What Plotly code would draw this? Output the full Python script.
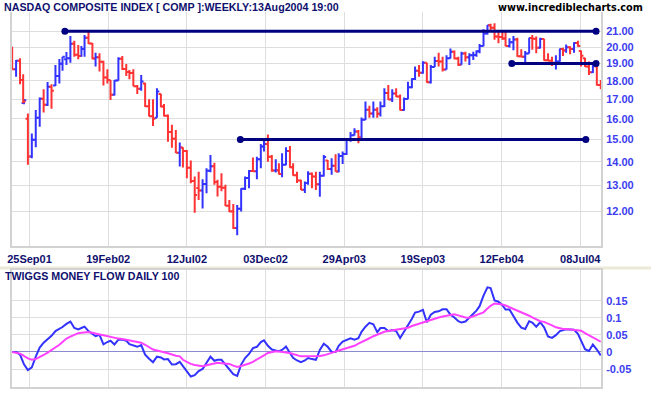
import numpy as np
import pandas as pd
import plotly.graph_objects as go

# ---------------- data ----------------
week_end = pd.date_range("2001-08-17", "2004-08-13", freq="W-FRI").strftime("%Y-%m-%d").tolist()

market_holidays = [
    "2001-09-03", "2001-09-11", "2001-09-12", "2001-09-13", "2001-09-14", "2001-11-22", "2001-12-25",
    "2002-01-01", "2002-01-21", "2002-02-18", "2002-03-29", "2002-05-27", "2002-07-04", "2002-09-02",
    "2002-11-28", "2002-12-25",
    "2003-01-01", "2003-01-20", "2003-02-17", "2003-04-18", "2003-05-26", "2003-07-04", "2003-09-01",
    "2003-11-27", "2003-12-25",
    "2004-01-01", "2004-01-19", "2004-02-16", "2004-04-09", "2004-05-31", "2004-06-11", "2004-07-05",
]

price_open = [
    20.00, 18.67, 19.16, 18.05, 16.80, 16.00, 14.23, 14.99, 16.05, 17.03,
    16.71, 17.68, 17.75, 18.28, 18.98, 19.25, 19.31, 20.21, 19.53, 19.45,
    19.87, 20.59, 20.22, 19.30, 19.37, 19.11, 18.19, 18.05, 17.24, 18.02,
    19.29, 18.68, 18.51, 18.45, 17.70, 17.56, 17.86, 16.63, 16.13, 16.05,
    17.28, 16.62, 16.15, 15.35, 15.04, 14.40, 14.63, 14.48, 13.74, 13.19,
    12.90, 12.80, 13.06, 13.61, 13.80, 13.15, 12.95, 12.91, 12.21, 12.00,
    11.39, 12.10, 12.87, 13.31, 13.60, 13.59, 14.11, 14.68, 14.79, 14.22,
    13.62, 13.63, 13.48, 13.87, 14.48, 13.76, 13.42, 13.21, 12.83, 13.10,
    13.49, 13.37, 13.05, 13.40, 14.05, 13.69, 13.83, 13.58, 14.25, 14.34,
    15.02, 15.20, 15.38, 15.10, 15.95, 16.46, 16.27, 16.45, 16.25, 16.63,
    17.33, 16.99, 17.31, 17.15, 16.44, 17.02, 17.65, 18.10, 18.58, 18.46,
    19.05, 17.93, 18.80, 19.15, 19.12, 18.65, 19.32, 19.71, 19.30, 18.93,
    19.60, 19.37, 19.49, 19.51, 19.74, 20.06, 20.86, 21.40, 21.24, 20.66,
    20.64, 20.53, 20.07, 20.30, 20.47, 19.43, 19.40, 19.60, 20.57, 20.52,
    19.95, 20.50, 19.20, 19.17, 19.04, 19.12, 19.87, 19.78, 19.99, 19.87,
    20.25, 19.75, 19.31, 18.83, 18.49, 18.82, 17.77,
]
price_high = [
    20.02, 19.21, 19.31, 18.38, 17.00, 16.27, 15.29, 16.44, 17.10, 17.54,
    17.94, 17.81, 18.91, 19.27, 19.41, 19.69, 20.70, 20.40, 20.13, 20.06,
    20.76, 21.00, 20.25, 19.65, 19.61, 19.17, 18.66, 18.05, 18.05, 19.37,
    19.45, 18.97, 18.62, 18.66, 17.77, 18.33, 17.90, 17.00, 17.00, 17.59,
    17.30, 16.75, 16.21, 15.70, 15.45, 14.86, 14.65, 14.52, 14.05, 13.37,
    13.57, 13.26, 13.72, 14.30, 13.96, 13.24, 13.51, 13.03, 12.43, 12.28,
    12.24, 12.89, 13.37, 13.65, 14.19, 14.22, 14.79, 15.06, 15.24, 14.30,
    14.11, 13.93, 14.37, 14.64, 14.70, 13.93, 13.57, 13.24, 13.17, 13.59,
    13.54, 13.57, 13.57, 14.30, 14.08, 14.15, 14.33, 14.37, 14.45, 15.06,
    15.35, 15.53, 15.45, 16.07, 16.88, 16.66, 16.88, 16.58, 16.88, 17.59,
    17.77, 17.54, 17.59, 17.26, 17.10, 17.95, 18.15, 18.82, 18.91, 19.14,
    19.05, 18.91, 19.41, 19.65, 19.41, 19.49, 19.90, 19.79, 19.41, 19.70,
    19.70, 19.61, 19.70, 19.79, 20.19, 21.13, 21.42, 21.50, 21.54, 20.98,
    20.98, 20.98, 20.55, 20.70, 20.58, 19.86, 19.75, 20.58, 20.76, 20.67,
    20.58, 20.52, 19.61, 19.41, 19.50, 19.90, 19.95, 20.15, 20.05, 20.30,
    20.40, 19.78, 19.35, 19.12, 19.05, 18.90, 18.05,
]
price_low = [
    18.66, 18.24, 17.81, 16.79, 16.74, 13.87, 14.15, 14.64, 15.61, 16.31,
    16.65, 16.51, 17.72, 17.86, 18.58, 18.91, 19.05, 19.41, 19.25, 19.41,
    19.41, 20.19, 19.25, 18.82, 18.53, 17.74, 17.86, 16.96, 17.20, 18.01,
    18.62, 18.28, 18.09, 17.70, 17.28, 17.46, 16.60, 16.11, 15.65, 16.05,
    16.58, 16.11, 14.90, 14.62, 14.38, 13.79, 13.75, 13.30, 13.09, 11.95,
    12.43, 12.11, 12.69, 13.55, 13.03, 12.57, 12.77, 12.20, 11.97, 11.36,
    11.14, 11.99, 12.82, 12.89, 13.57, 13.26, 13.72, 14.45, 14.00, 13.57,
    13.54, 13.46, 13.34, 13.85, 13.74, 13.40, 13.10, 12.82, 12.70, 13.03,
    12.89, 12.82, 12.56, 13.37, 13.65, 13.44, 13.57, 13.55, 13.90, 14.30,
    14.90, 15.19, 14.83, 15.06, 15.94, 16.05, 16.05, 16.05, 16.11, 16.60,
    16.96, 16.86, 17.12, 16.42, 16.40, 17.00, 17.60, 18.05, 18.24, 18.40,
    17.90, 17.86, 18.80, 18.82, 18.53, 18.65, 19.30, 19.25, 18.85, 18.93,
    19.12, 18.91, 19.21, 19.41, 19.61, 20.05, 20.80, 21.09, 20.45, 20.23,
    20.45, 20.05, 19.97, 19.80, 19.40, 19.38, 19.05, 19.60, 19.83, 19.61,
    19.90, 19.17, 19.15, 18.85, 18.65, 19.10, 19.45, 19.65, 19.55, 19.65,
    20.02, 18.82, 18.80, 18.33, 18.45, 17.75, 17.55,
]
price_close = [
    18.67, 19.16, 18.05, 16.88, 16.95, 14.23, 14.99, 16.05, 17.03, 16.71,
    17.68, 17.46, 18.28, 18.98, 19.40, 19.31, 20.21, 19.53, 19.45, 19.87,
    20.59, 20.22, 19.30, 19.37, 19.11, 18.19, 18.05, 17.24, 18.02, 19.29,
    18.68, 18.51, 18.45, 17.70, 17.56, 17.96, 16.63, 16.13, 16.00, 17.41,
    16.62, 16.15, 15.35, 15.04, 14.40, 14.63, 14.48, 13.74, 13.19, 12.62,
    12.80, 13.06, 13.61, 13.80, 13.15, 12.95, 12.91, 12.21, 11.99, 11.39,
    12.10, 12.87, 13.31, 13.60, 13.59, 14.11, 14.68, 14.79, 14.22, 13.62,
    13.63, 13.48, 13.87, 14.48, 13.76, 13.42, 13.21, 12.83, 13.10, 13.49,
    13.37, 13.05, 13.40, 14.21, 13.69, 13.83, 13.58, 14.25, 14.34, 15.02,
    15.20, 15.38, 15.10, 15.95, 16.46, 16.27, 16.45, 16.25, 16.63, 17.33,
    16.99, 17.31, 17.15, 16.44, 17.02, 17.65, 18.10, 18.58, 18.46, 19.05,
    17.93, 18.80, 19.15, 19.12, 18.65, 19.32, 19.71, 19.30, 18.93, 19.60,
    19.37, 19.49, 19.51, 19.74, 20.06, 20.86, 21.40, 21.24, 20.66, 20.64,
    20.53, 20.07, 20.30, 20.47, 19.43, 19.40, 19.60, 20.57, 20.52, 19.95,
    20.50, 19.20, 19.17, 19.04, 19.12, 19.87, 19.78, 19.99, 19.87, 20.25,
    20.06, 19.46, 18.83, 18.49, 18.87, 17.77, 17.57,
]

tmf = [
    0.000, 0.000, -0.008, -0.030, -0.036, -0.053, -0.045, -0.014, 0.013, 0.027,
    0.036, 0.047, 0.061, 0.067, 0.073, 0.082, 0.089, 0.070, 0.066, 0.070,
    0.074, 0.061, 0.052, 0.046, 0.050, 0.022, 0.029, 0.033, 0.022, 0.036,
    0.036, 0.033, 0.023, 0.018, 0.015, 0.020, -0.008, -0.020, -0.030, -0.014,
    -0.016, -0.022, -0.021, -0.037, -0.036, -0.029, -0.041, -0.058, -0.072, -0.068,
    -0.056, -0.050, -0.030, -0.014, -0.026, -0.023, -0.023, -0.038, -0.050, -0.065,
    -0.070, -0.037, -0.018, -0.006, 0.011, 0.015, 0.029, 0.034, 0.018, 0.007,
    0.004, 0.002, 0.006, 0.016, -0.003, -0.017, -0.025, -0.030, -0.025, -0.018,
    -0.021, -0.023, 0.006, 0.024, 0.015, 0.000, 0.000, 0.018, 0.030, 0.036,
    0.040, 0.036, 0.040, 0.059, 0.074, 0.085, 0.081, 0.058, 0.070, 0.070,
    0.061, 0.064, 0.061, 0.041, 0.058, 0.078, 0.097, 0.115, 0.118, 0.123,
    0.087, 0.109, 0.117, 0.119, 0.125, 0.125, 0.109, 0.101, 0.090, 0.086,
    0.089, 0.100, 0.113, 0.121, 0.134, 0.165, 0.189, 0.187, 0.151, 0.147,
    0.137, 0.124, 0.124, 0.104, 0.086, 0.071, 0.067, 0.090, 0.086, 0.074,
    0.087, 0.072, 0.045, 0.041, 0.049, 0.061, 0.063, 0.066, 0.066, 0.065,
    0.053, 0.031, 0.008, 0.003, 0.022, 0.007, -0.010,
]
tmf_signal = [
    0.000, -0.002, -0.005, -0.010, -0.012, -0.019, -0.023, -0.021, -0.016, -0.009,
    -0.002, 0.005, 0.013, 0.021, 0.029, 0.039, 0.045, 0.050, 0.055, 0.056,
    0.057, 0.058, 0.056, 0.053, 0.051, 0.049, 0.046, 0.043, 0.041, 0.039,
    0.038, 0.036, 0.035, 0.032, 0.030, 0.027, 0.021, 0.014, 0.007, 0.004,
    0.002, -0.001, -0.004, -0.008, -0.011, -0.013, -0.023, -0.029, -0.035, -0.038,
    -0.040, -0.042, -0.039, -0.036, -0.033, -0.032, -0.033, -0.034, -0.035, -0.040,
    -0.044, -0.041, -0.038, -0.034, -0.029, -0.023, -0.016, -0.010, -0.003, 0.000,
    0.002, 0.001, 0.000, -0.002, -0.003, -0.006, -0.010, -0.013, -0.013, -0.013,
    -0.013, -0.013, -0.012, -0.010, -0.007, -0.003, 0.001, 0.004, 0.007, 0.010,
    0.014, 0.018, 0.024, 0.028, 0.034, 0.040, 0.046, 0.051, 0.055, 0.059,
    0.061, 0.063, 0.064, 0.065, 0.067, 0.071, 0.076, 0.079, 0.084, 0.087,
    0.091, 0.095, 0.098, 0.101, 0.104, 0.106, 0.108, 0.110, 0.107, 0.104,
    0.101, 0.100, 0.104, 0.108, 0.111, 0.116, 0.127, 0.135, 0.142, 0.141,
    0.139, 0.136, 0.131, 0.126, 0.122, 0.118, 0.112, 0.106, 0.101, 0.096,
    0.090, 0.088, 0.084, 0.078, 0.072, 0.068, 0.067, 0.067, 0.066, 0.066,
    0.064, 0.062, 0.055, 0.049, 0.041, 0.036, 0.030,
]

date_tick_days = ["2001-09-25", "2002-02-19", "2002-07-12", "2002-12-03",
                  "2003-04-29", "2003-09-19", "2004-02-12", "2004-07-08"]
date_tick_labels = ["25Sep01", "19Feb02", "12Jul02", "03Dec02",
                    "29Apr03", "19Sep03", "12Feb04", "08Jul04"]
price_ticks = [12, 13, 14, 15, 16, 17, 18, 19, 20, 21]
price_tick_labels = ["12.00", "13.00", "14.00", "15.00", "16.00",
                     "17.00", "18.00", "19.00", "20.00", "21.00"]
tmf_ticks = [-0.05, 0, 0.05, 0.1, 0.15]
tmf_tick_labels = ["-0.05", "0", "0.05", "0.1", "0.15"]

trend_start = ["2001-11-28", "2002-10-17", "2004-03-03"]
trend_end = ["2004-08-05", "2004-07-19", "2004-08-05"]
trend_level = [21.0, 15.0, 19.0]

# ---------------- trading-day axis ----------------
HOL = np.array(market_holidays, dtype="datetime64[D]")
START = np.datetime64(week_end[0])


def trading_day(dates):
    d = np.array(dates, dtype="datetime64[D]")
    last = np.busday_offset(d, 0, roll="backward", holidays=HOL)
    return np.busday_count(START, last, holidays=HOL).astype(float)


bar_x = trading_day(week_end)
tick_x = trading_day(date_tick_days)
ts_x = trading_day(trend_start)
te_x = trading_day(trend_end)

BLUE = "#3333ff"
RED = "#ff3333"
NAVY = "#000080"
GRID = "#dedede"
FRAME = "#d2d2d2"
LABEL_BLUE = "#3c3cf0"
LABEL_NAVY = "#10106e"
TICK = 3.0  # tick length in trading days

up_x, up_y, dn_x, dn_y = [], [], [], []
for x, o, h, l, c in zip(bar_x, price_open, price_high, price_low, price_close):
    xs = [x, x, None, x - TICK, x, None, x, x + TICK, None]
    ys = [l, h, None, o, o, None, c, c, None]
    if c >= o:
        up_x += xs
        up_y += ys
    else:
        dn_x += xs
        dn_y += ys

fig = go.Figure()
fig.add_trace(go.Scatter(x=up_x, y=up_y, mode="lines", line=dict(color=BLUE, width=2),
                         hoverinfo="skip", showlegend=False, xaxis="x", yaxis="y"))
fig.add_trace(go.Scatter(x=dn_x, y=dn_y, mode="lines", line=dict(color=RED, width=2),
                         hoverinfo="skip", showlegend=False, xaxis="x", yaxis="y"))

for x0, x1, lvl in zip(ts_x, te_x, trend_level):
    fig.add_trace(go.Scatter(x=[x0, x1], y=[lvl, lvl], mode="lines+markers",
                             line=dict(color=NAVY, width=3), marker=dict(color=NAVY, size=7),
                             hoverinfo="skip", showlegend=False, xaxis="x", yaxis="y"))

fig.add_trace(go.Scatter(x=bar_x, y=tmf, mode="lines", line=dict(color=BLUE, width=2),
                         hoverinfo="skip", showlegend=False, xaxis="x2", yaxis="y2"))
fig.add_trace(go.Scatter(x=bar_x, y=tmf_signal, mode="lines", line=dict(color="#ff40ff", width=2),
                         hoverinfo="skip", showlegend=False, xaxis="x2", yaxis="y2"))

ML, MR, MT, MB = 12, 50, 12, 8
W, Hh = 651, 395
PW, PH = W - ML - MR, Hh - MT - MB


def px_x(p):
    return (p - ML) / PW


def px_y(p):
    return (Hh - MB - p) / PH


lab_font = dict(family="Liberation Sans, Arial, sans-serif", size=11, weight="bold")
xr = [-0.2, 748.3]

fig.update_layout(
    width=W, height=Hh, margin=dict(l=ML, r=MR, t=MT, b=MB),
    paper_bgcolor="white", plot_bgcolor="white",
    xaxis=dict(domain=[0, 1], anchor="y", range=xr, tickmode="array", tickvals=tick_x,
               ticktext=date_tick_labels, showgrid=True, gridcolor=GRID, gridwidth=1,
               zeroline=False, showline=True, linecolor=FRAME, linewidth=2, ticks="",
               tickfont=dict(lab_font, color=LABEL_NAVY), ticklabelstandoff=2),
    yaxis=dict(domain=[px_y(245.5), 1], anchor="x", type="log",
               range=[np.log10(10.79), np.log10(22.30)], side="right", tickmode="array",
               tickvals=price_ticks, ticktext=price_tick_labels, showgrid=True, gridcolor=GRID,
               zeroline=False, showline=True, mirror=True, linecolor=FRAME, linewidth=2, ticks="",
               tickfont=dict(lab_font, color=LABEL_BLUE), ticklabelstandoff=1),
    xaxis2=dict(domain=[0, 1], anchor="y2", range=xr, tickmode="array", tickvals=tick_x,
                showticklabels=False, showgrid=True, gridcolor=GRID, zeroline=False,
                showline=True, mirror=True, linecolor=FRAME, linewidth=2, ticks=""),
    yaxis2=dict(domain=[0, px_y(270)], anchor="x2", range=[-0.1027, 0.2399], side="right",
                tickmode="array", tickvals=tmf_ticks, ticktext=tmf_tick_labels, showgrid=True,
                gridcolor=GRID, zeroline=True, zerolinecolor="#8a8ad0", zerolinewidth=1,
                showline=True, mirror=True, linecolor=FRAME, linewidth=2, ticks="",
                tickfont=dict(lab_font, color=LABEL_BLUE), ticklabelstandoff=1),
    shapes=[dict(type="rect", xref="paper", yref="paper", x0=px_x(0), x1=px_x(651),
                 y0=px_y(269.5), y1=px_y(266.5), fillcolor="#ece9d8", line=dict(width=0),
                 layer="below")],
    annotations=[
        dict(text="NASDAQ COMPOSITE INDEX [ COMP ]:WEEKLY:13Aug2004 19:00", xref="paper",
             yref="paper", x=px_x(2), y=px_y(7.5), xanchor="left", yanchor="middle",
             showarrow=False, font=dict(family="Liberation Sans, Arial", size=10.7,
                                        weight="bold", color=LABEL_NAVY)),
        dict(text="www.incrediblecharts.com", xref="paper", yref="paper", x=px_x(645),
             y=px_y(7.5), xanchor="right", yanchor="middle", showarrow=False,
             font=dict(family="DejaVu Sans, Verdana", size=9.7, weight="bold", color="#000000")),
        dict(text="TWIGGS MONEY FLOW DAILY 100", xref="paper", yref="paper", x=px_x(3),
             y=px_y(275.7), xanchor="left", yanchor="middle", showarrow=False,
             font=dict(family="Liberation Sans, Arial", size=10.7, weight="bold",
                       color=LABEL_NAVY)),
    ],
)

fig.write_html("out.html", config={"displayModeBar": False},
               post_script="document.body.style.margin='0';")
